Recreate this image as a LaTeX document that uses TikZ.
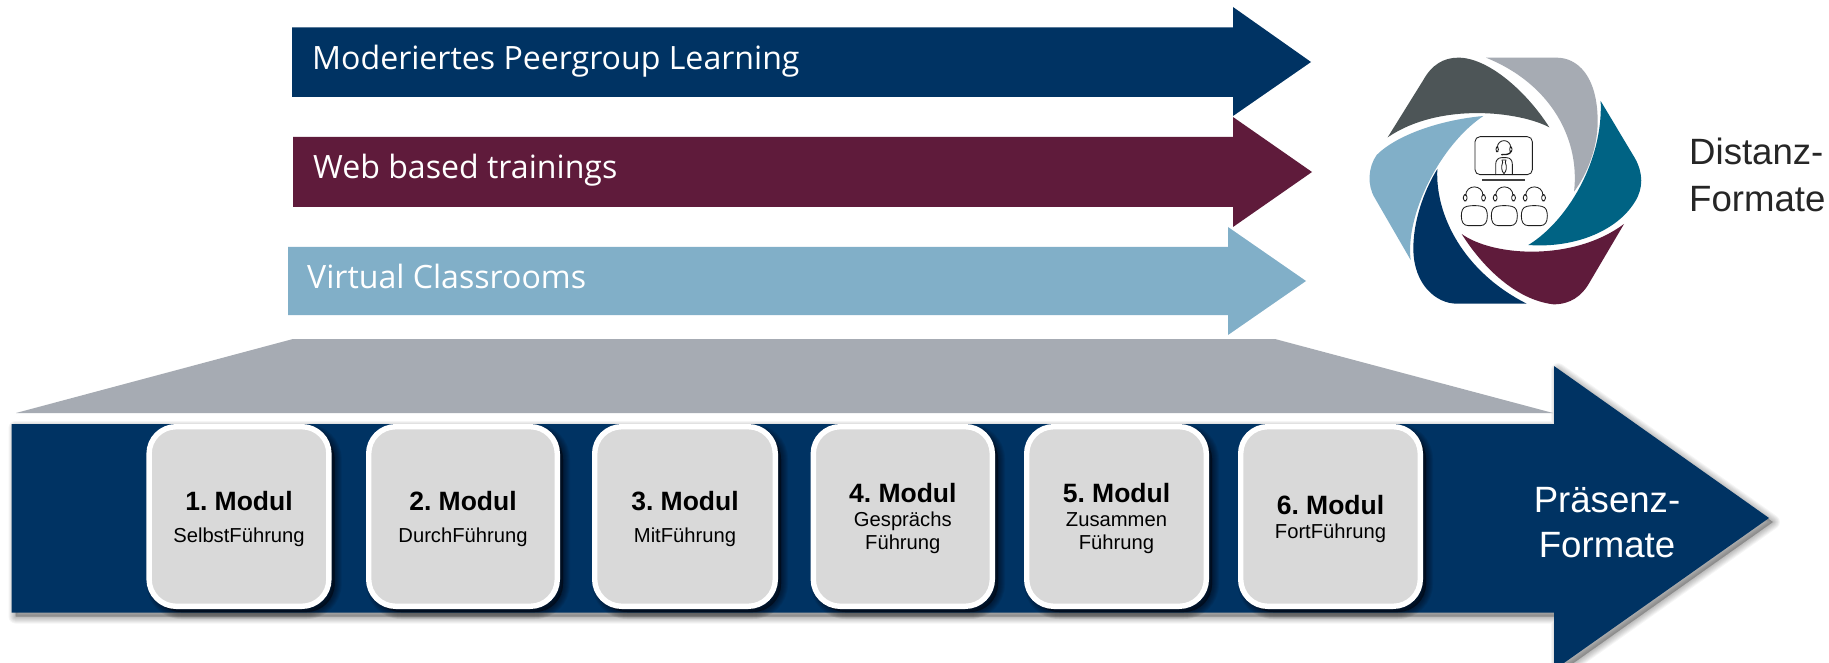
\documentclass[tikz,border=0pt]{standalone}
\usepackage{fontspec}
\setmainfont{Liberation Sans}
\newfontfamily\peerfont{Open Sans}
\definecolor{navy}{HTML}{003363}
\definecolor{maroon}{HTML}{5F1B3B}
\definecolor{lightblue}{HTML}{81AFC8}
\definecolor{midgray}{HTML}{A6ABB3}
\definecolor{darkgray}{HTML}{4D5557}
\definecolor{teal}{HTML}{006384}
\definecolor{modfill}{HTML}{D9D9D9}
\newcommand{\softshadow}[4]{% opacity, shift x, y, path
  \begin{scope}[shift={(#2pt,-#3pt)}]
    \foreach \w in {14,12,10,8,6,4,2}{
      \path[fill=black,draw=black,fill opacity=#1,draw opacity=#1,line width=\w pt,line join=round] #4;
    }
  \end{scope}}
\tikzset{
  labelfont/.style={anchor=base west,inner sep=0pt,text=white,font=\peerfont\fontsize{32.1}{35}\selectfont},
  modbox/.style={rectangle,rounded corners=27pt,draw=white,line width=5.4pt,fill=modfill,inner sep=0pt},
  modtitle/.style={anchor=base,inner sep=0pt,text=black,font=\bfseries\fontsize{26.5}{30}\selectfont\frenchspacing},
  modsub/.style={anchor=base,inner sep=0pt,text=black,font=\fontsize{20.2}{23}\selectfont},
  bigtext/.style={anchor=base,inner sep=0pt,font=\fontsize{36.6}{40}\selectfont},
  iconline/.style={draw=black!88,line width=.85pt,line cap=round,line join=round},
  x=1pt,y=-1pt
}
\begin{document}
\begin{tikzpicture}
\clip (0,0) rectangle (1829,663);
\useasboundingbox (0,0) rectangle (1829,663);
\fill[white] (0,0) rectangle (1829,663);

% top arrows
\fill[navy] (292,27.5) -- (1233,27.5) -- (1233,7) -- (1311,62) -- (1233,116) -- (1233,97) -- (292,97) -- cycle;
\fill[maroon] (293,137) -- (1233,137) -- (1233,117) -- (1312,172) -- (1233,227) -- (1233,207) -- (293,207) -- cycle;
\fill[lightblue] (288,247) -- (1228,247) -- (1228,227) -- (1306,281) -- (1228,335) -- (1228,315) -- (288,315) -- cycle;
\node[labelfont] (l1) at (312,70) {Moderiertes Peergroup Learning};
\node[labelfont] (l2) at (313,179) {Web based trainings};
\node[labelfont] (l3) at (307,288) {Virtual Classrooms};

% trapezoid
\fill[midgray] (16,413) -- (293,339) -- (1275,339) -- (1553,413) -- cycle;

% big arrow
\softshadow{.04}{4}{4}{(11.5,424) -- (1554,424) -- (1554,366) -- (1769,518) -- (1554,670) -- (1554,612.5) -- (11.5,612.5) -- cycle}
\fill[navy] (11.5,424) -- (1554,424) -- (1554,366) -- (1769,518) -- (1554,670) -- (1554,612.5) -- (11.5,612.5) -- cycle;

% modules
\foreach \nm/\xa/\xb in {m1/146.4/331.6,m2/366/560,m3/592/778,m4/810.6/995,m5/1024/1209,m6/1238/1423}{
  \softshadow{.07}{5}{5}{[rounded corners=28pt] (\xa+2,426) rectangle (\xb-2,607)}
  \node[modbox,minimum width=\xb-\xa-5.4,minimum height=179.6pt] (\nm) at ({(\xa+\xb)/2},516.5) {};
}
\node[modtitle] (t1) at (m1.center |- 0,510) {1. Modul};
\node[modsub] (s1) at (m1.center |- 0,542) {SelbstFührung};
\node[modtitle] (t2) at (m2.center |- 0,510) {2. Modul};
\node[modsub] (s2) at (m2.center |- 0,542) {DurchFührung};
\node[modtitle] (t3) at (m3.center |- 0,510) {3. Modul};
\node[modsub] (s3) at (m3.center |- 0,542) {MitFührung};
\node[modtitle] (t4) at (m4.center |- 0,502) {4. Modul};
\node[modsub] (s4) at (m4.center |- 0,526) {Gesprächs};
\node[modsub] (u4) at (m4.center |- 0,549) {Führung};
\node[modtitle] (t5) at (m5.center |- 0,502) {5. Modul};
\node[modsub] (s5) at (m5.center |- 0,526) {Zusammen};
\node[modsub] (u5) at (m5.center |- 0,549) {Führung};
\node[modtitle] (t6) at (m6.center |- 0,514) {6. Modul};
\node[modsub] (s6) at (m6.center |- 0,538) {FortFührung};

\node[bigtext,text=white] (p1) at (1607,512.5) {Präsenz-};
\node[bigtext,text=white] (p2) at (1607,557) {Formate};
\node[bigtext,anchor=base west,text=black!85] (d1) at (1689,164.5) {Distanz-};
\node[bigtext,anchor=base west,text=black!85] (d2) at (1689,212) {Formate};

% iris icon (coordinates in 3x units)
\begin{scope}[x=.33333pt,y=-.33333pt,shift={(1360pt,-45pt)}]
\fill[darkgray] (83,277) -- (190,105) .. controls (215,60) and (250,38) .. (295,38)
  .. controls (385,38) and (500,140) .. (568,247)
  .. controls (480,200) and (240,170) .. (83,277) -- cycle;
\fill[midgray] (378,38) -- (590,38) .. controls (650,38) and (713,90) .. (713,230)
  .. controls (713,310) and (680,390) .. (642,440)
  .. controls (660,290) and (580,120) .. (378,38) -- cycle;
\fill[teal] (722,168) -- (825,340) .. controls (850,385) and (850,430) .. (825,470)
  .. controls (770,560) and (640,610) .. (505,600)
  .. controls (620,530) and (730,350) .. (722,168) -- cycle;
\fill[maroon] (792,537) -- (690,710) .. controls (665,755) and (630,778) .. (580,778)
  .. controls (470,765) and (370,670) .. (305,567)
  .. controls (400,635) and (640,650) .. (792,537) -- cycle;
\fill[navy] (500,776) -- (290,776) .. controls (230,776) and (160,720) .. (160,610)
  .. controls (160,530) and (190,440) .. (232,372)
  .. controls (225,510) and (310,680) .. (500,776) -- cycle;
\fill[lightblue] (370,213) .. controls (240,225) and (110,270) .. (50,330)
  .. controls (25,365) and (20,420) .. (45,460)
  -- (152,645) .. controls (135,510) and (240,300) .. (370,213) -- cycle;

% monitor
\draw[iconline,rounded corners=5pt] (345,275) rectangle (517,389);
\draw[draw=black!75,line width=1.3pt] (367,405) -- (495,405);
% presenter
\draw[iconline] (412,308) .. controls (412,280) and (452,280) .. (452,308);
\draw[iconline,rounded corners=2pt] (408,306) rectangle (415,320);
\draw[iconline,rounded corners=2pt] (449,306) rectangle (456,320);
\draw[draw=black!88,line width=1.3pt,line cap=round] (452,322) .. controls (447,329) and (435,329) .. (425,329);
\draw[iconline] (407,389) -- (407,358) .. controls (407,345) and (415,338) .. (425,338) -- (439,338) .. controls (450,338) and (457,345) .. (457,358) -- (457,389);
\draw[iconline] (426,345) -- (438,345) -- (436,352) .. controls (441,365) and (440,378) .. (432,386) .. controls (424,378) and (423,365) .. (428,352) -- cycle;
% audience
\foreach \c in {343,433,523}{
  \draw[iconline] (\c-26,452) .. controls (\c-26,417) and (\c+26,417) .. (\c+26,452);
  \draw[iconline,rounded corners=2.5pt] (\c-33,449) rectangle (\c-22,468);
  \draw[iconline,rounded corners=2.5pt] (\c+22,449) rectangle (\c+33,468);
  \draw[iconline] (\c-22,484) .. controls (\c-8,481) and (\c+8,481) .. (\c+22,484)
     .. controls (\c+36,486) and (\c+39,500) .. (\c+39,513)
     .. controls (\c+39,530) and (\c+33,542) .. (\c+18,542)
     -- (\c-18,542) .. controls (\c-33,542) and (\c-39,530) .. (\c-39,513)
     .. controls (\c-39,500) and (\c-36,486) .. (\c-22,484) -- cycle;
}
\end{scope}
\end{tikzpicture}
\end{document}
